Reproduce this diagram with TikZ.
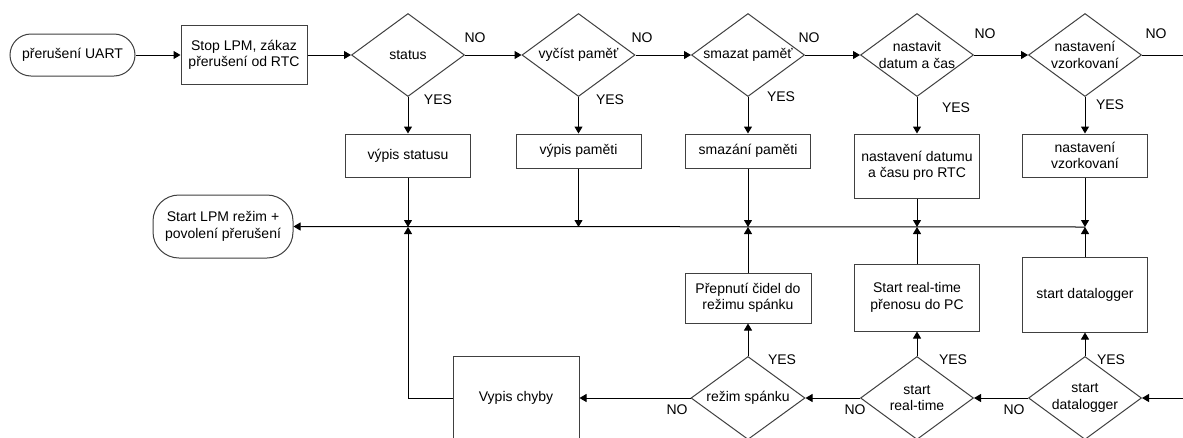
\documentclass[tikz,border=0pt]{standalone}
\usepackage{fontspec}
\setmainfont{Liberation Sans}
\usetikzlibrary{shapes.geometric,arrows.meta}
\begin{document}
\begin{tikzpicture}[x=1pt,y=-1pt,
 every node/.style={font=\fontsize{14}{16.5}\selectfont, text=black},
 box/.style={draw=black!75, line width=1pt, align=center, inner sep=0pt, minimum width=125pt},
 term/.style={box, rounded corners=21pt},
 dia/.style={diamond, draw=black!75, line width=1pt, minimum width=113pt, minimum height=83pt, inner sep=0pt},
 lab/.style={inner sep=0pt},
 arr/.style={line width=1pt, -{Triangle[length=7pt,width=8pt]}},
 ln/.style={line width=1pt}]
\useasboundingbox (0,0) rectangle (1183,437);
\clip (0,0) rectangle (1183,437);
\fill[white] (0,0) rectangle (1183,437);

% top row
\node[term, minimum height=42pt] (start) at (72.5,55) {přerušení UART};
\node[box, minimum width=126pt, minimum height=59pt] (stop) at (244,55) {Stop LPM, zákaz\\přerušení od RTC};
\node[dia, label={[align=center]center:status}] (d1) at (408,55) {};
\node[dia, label={[align=center]center:vyčíst paměť}] (d2) at (578.5,55) {};
\node[dia, label={[align=center]center:smazat paměť}] (d3) at (748,55) {};
\node[dia, label={[align=center]center:nastavit\\datum a čas}] (d4) at (917,55) {};
\node[dia, label={[align=center]center:nastavení\\vzorkovaní}] (d5) at (1085,55) {};
\coordinate (redge) at (1183,55);

% second row boxes
\node[box, minimum height=43pt] (b1) at (408,155.5) {výpis statusu};
\node[box, minimum height=34pt] (b2) at (578.5,151) {výpis paměti};
\node[box, minimum height=34pt] (b3) at (748,151) {smazání paměti};
\node[box, minimum height=64pt] (b4) at (917,166) {nastavení datumu\\a času pro RTC};
\node[box, minimum height=43pt] (b5) at (1085,155.5) {nastavení\\vzorkovaní};

% junction row
\coordinate (j1) at (408,227);
\coordinate (j2) at (578.5,227);
\coordinate (j3) at (748,227);
\coordinate (j4) at (917,227);
\coordinate (j5) at (1085,227);
\node[term, minimum width=140pt, minimum height=63pt, rounded corners=26pt] (endt) at (223,226.5) {Start LPM režim +\\povolení přerušení};

% lower boxes
\node[box, minimum width=126pt, minimum height=50pt] (prep) at (748,298) {Přepnutí čidel do\\režimu spánku};
\node[box, minimum height=67pt] (srt) at (917,297.5) {Start real-time\\přenosu do PC};
\node[box, minimum height=75pt] (sdl) at (1085,294.5) {start datalogger};

% bottom row
\node[box, minimum width=126pt, minimum height=84pt] (err) at (516,398) {Vypis chyby};
\node[dia, minimum width=114pt, label={[align=center]center:režim spánku}] (rs) at (748,398) {};
\node[dia, label={[align=center]center:start\\real-time}] (rt) at (917,398) {};
\node[dia, label={[align=center]center:start\\datalogger}] (dl) at (1085,398) {};
\coordinate (redge2) at (1183,398);

% connectors top row
\draw[arr] (start.east) -- (stop.west);
\draw[arr] (stop.east) -- (d1.west);
\draw[arr] (d1.east) -- (d2.west);
\draw[arr] (d2.east) -- (d3.west);
\draw[arr] (d3.east) -- (d4.west);
\draw[arr] (d4.east) -- (d5.west);
\draw[ln] (d5.east) -- (redge);

\draw[arr] (d1.south) -- (b1.north);
\draw[arr] (d2.south) -- (b2.north);
\draw[arr] (d3.south) -- (b3.north);
\draw[arr] (d4.south) -- (b4.north);
\draw[arr] (d5.south) -- (b5.north);

\draw[arr] (b1.south) -- (j1);
\draw[arr] (b2.south) -- (j2);
\draw[arr] (b3.south) -- (j3);
\draw[arr] (b4.south) -- (j4);
\draw[arr] (b5.south) -- (j5);
\draw[arr] (j5) -- (endt.east);

\draw[arr] (prep.north) -- (j3);
\draw[arr] (srt.north) -- (j4);
\draw[arr] (sdl.north) -- (j5);

\draw[arr] (rs.north) -- (prep.south);
\draw[arr] (rt.north) -- (srt.south);
\draw[arr] (dl.north) -- (sdl.south);

\draw[arr] (redge2) -- (dl.east);
\draw[arr] (dl.west) -- (rt.east);
\draw[arr] (rt.west) -- (rs.east);
\draw[arr] (rs.west) -- (err.east);
\draw[arr] (err.west) -| (j1);

% YES / NO labels
\node[lab] (n1) at (475,38) {NO};
\node[lab] (n2) at (642,38) {NO};
\node[lab] (n3) at (809,38) {NO};
\node[lab] (n4) at (985,34) {NO};
\node[lab] (n5) at (1156,34) {NO};
\node[lab] (y1) at (438,100) {YES};
\node[lab] (y2) at (610,100) {YES};
\node[lab] (y3) at (781,97) {YES};
\node[lab] (y4) at (956,108) {YES};
\node[lab] (y5) at (1110,105) {YES};
\node[lab] (n6) at (677,410) {NO};
\node[lab] (n7) at (855,410) {NO};
\node[lab] (n8) at (1014,410) {NO};
\node[lab] (y6) at (782,360) {YES};
\node[lab] (y7) at (953,360) {YES};
\node[lab] (y8) at (1111,360) {YES};
\end{tikzpicture}
\end{document}
